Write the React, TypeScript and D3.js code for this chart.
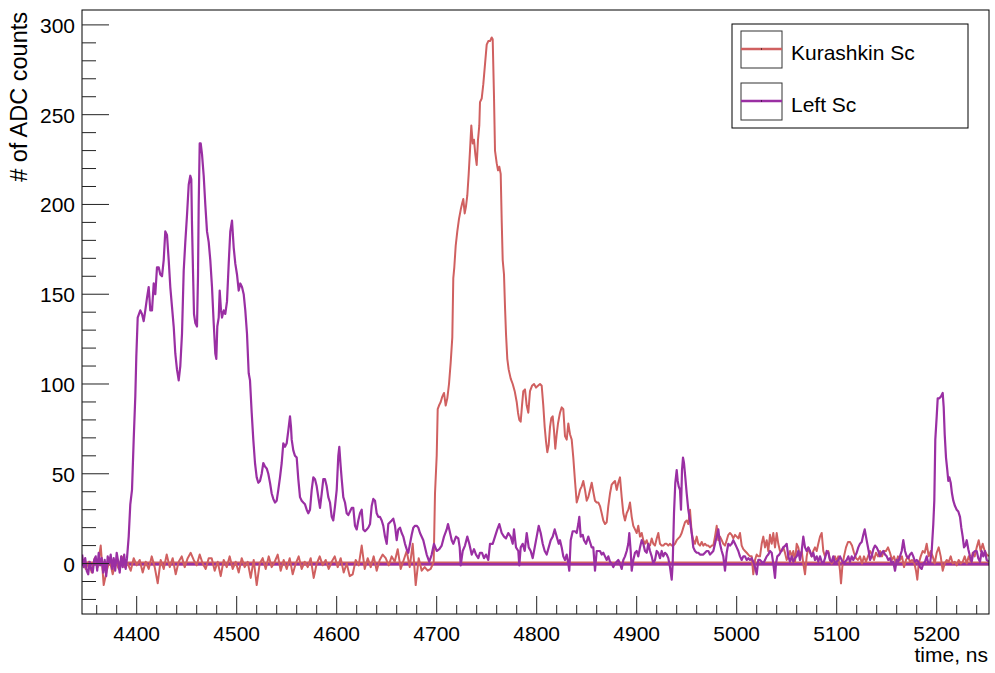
import React from "react";
import * as d3 from "d3";

// ---- data: [time ns, # of ADC counts] ----
const kurashkinSc: [number, number][] = [
  [4346,2],[4349,-3],[4352,1],[4355,-5],[4358,3],[4361,-2],[4364,10],[4367,-12],[4370,-4],[4373,2],[4376,-6],[4379,1],[4382,-3],[4385,4],[4388,-2],[4391,0],[4394,-4],[4397,3],[4400,-1],[4403,2],[4406,-5],[4409,1],[4412,-3],[4415,4],[4418,-2],[4421,-11],[4424,2],[4427,-3],[4430,5],[4433,-2],[4436,3],[4439,-6],[4442,1],[4445,4],[4448,-2],[4451,3],[4454,6],[4457,2],[4460,-1],[4463,5],[4466,0],[4469,-3],[4472,3],[4475,3],[4478,-4],[4481,1],[4484,-7],[4487,2],[4490,-2],[4493,4],[4496,-3],[4499,1],[4502,-5],[4505,3],[4508,-2],[4511,1],[4514,-8],[4517,2],[4520,-12],[4523,0],[4526,3],[4529,-3],[4532,4],[4535,-2],[4538,1],[4541,5],[4544,-4],[4547,2],[4550,-3],[4553,3],[4556,-6],[4559,0],[4562,4],[4565,-3],[4568,1],[4571,-2],[4574,3],[4577,-8],[4580,0],[4583,4],[4586,-1],[4589,2],[4592,-3],[4595,1],[4598,4],[4601,-2],[4604,3],[4607,-5],[4610,0],[4613,-7],[4616,-6],[4619,2],[4622,-1],[4625,10],[4628,-3],[4631,3],[4634,-2],[4637,4],[4640,-4],[4643,2],[4646,5],[4649,3],[4652,-1],[4655,4],[4658,1],[4661,8],[4664,-3],[4667,2],[4670,7],[4673,-2],[4676,11],[4679,-12],[4682,3],[4685,-4],[4688,-2],[4691,-4],[4694,-3],[4697,1],
  [4698.3,39],[4700,60],[4701,86],[4702.3,88],[4704,90],[4705.6,93],[4707.3,95],[4709,88],[4710.6,92],[4712.3,100],[4714,112],[4715.6,126],[4716.6,159],[4717.6,165],[4719,177],[4720.6,185],[4722.3,192],[4724,197],[4725.6,201],[4726.6,203],[4728,195],[4729.3,199],[4730.6,205],[4732,217],[4733.3,230],[4734.6,244],[4736,234],[4737.3,236],[4738.6,228],[4740,222],[4741.3,236],[4742.6,244],[4743.3,257],[4745,259],[4746.6,267],[4748.3,278],[4750,289],[4751.6,291],[4753.3,291],[4755,293],[4756,292],[4757.3,260],[4758.3,230],[4760,223],[4761.3,219],[4762.6,221],[4764,217],[4765,191],[4766,169],[4767.3,161],[4768.3,143],[4769.3,128],[4770.6,114],[4772,108],[4774,103],[4776,100],[4778,96],[4780,90],[4781.3,84],[4782.6,80],[4784,79],[4785.3,88],[4786.6,96],[4788.3,97],[4790,88],[4791.6,84],[4793.3,96],[4795.3,99],[4797.3,100],[4799.3,98],[4801.3,99],[4803.3,100],[4805,99],[4806.6,88],[4808,76],[4809.3,68],[4810.6,62],[4812,66],[4813.3,76],[4814.6,81],[4816,82],[4817.3,74],[4818.6,64],[4820,72],[4821.3,78],[4822.6,82],
  [4823.3,84],[4825,87],[4826.6,86],[4828.3,71],[4830,69],[4831.6,78],[4833.3,72],[4835,69],[4836.6,59],[4838.3,46],[4840,34],[4841.6,37],[4843.3,41],[4845,43],[4846.6,46],[4848.3,41],[4850,35],[4851.6,37],[4853.3,41],[4855,45],[4856.6,40],[4858.3,35],[4860,34],[4861.6,34],[4863.3,32],[4865,28],[4866.6,24],[4868.3,22],[4870,23],[4871.6,32],[4873.3,39],[4875,44],[4876.6,45],[4878.3,46],[4880,41],[4881.6,45],[4883.3,48],[4885,37],[4886.6,28],[4888.3,24],[4890,28],[4891.6,30],[4893.3,34],[4895,26],[4896.6,21],[4898.3,19],[4900,17],[4901.6,21],[4903.3,15],[4905,17],[4906.6,13],[4908.3,11],[4910,13],[4911.6,10],[4913.3,10],[4915,14],[4916.6,11],[4918.3,10],[4920,14],[4921.6,17],[4923.3,11],[4925,10],[4926.6,10],[4928.3,11],[4930,11],[4931.6,10],[4933.3,11],[4935,10],[4936.6,10],[4938.3,11],[4940,13],[4941.6,14],[4943.3,15],[4945,17],[4946.6,20],[4948.3,23],[4950,24],[4951.6,22],[4953.3,30],[4955,17],[4956.6,13],[4958.3,11],[4960,15],[4961.6,11],[4963.3,10],[4965,12],[4966.6,10],[4968.3,11],[4970,10],[4971.6,10],[4973.3,9],[4975,10],[4976.6,10],[4978.3,15],[4980,21],[4981.6,13],[4983.3,15],[4985,13],[4986.6,11],[4988.3,10],[4990,13],[4991.6,16],[4993.3,17],[4995,16],[4996.6,14],[4998.3,16],[5000,15],[5001.6,14],[5003.3,17],[5005,10],[5006.6,8],[5008.3,7],[5010,6],[5011.6,5],[5013.3,4],[5015,4],[5016.6,-6],[5018.3,2],[5020,5],[5021.6,4],
  [5023.3,4],[5025,11],[5026.6,15],[5028.3,9],[5030,13],[5031.6,7],[5033.3,16],[5035,11],[5036.6,17],[5038.3,9],[5040,17],[5041.6,11],[5043.3,7],[5045,7],[5046.6,9],[5048.3,6],[5050,2],[5051.6,4],[5053.3,7],[5055,4],[5056.6,7],[5058.3,1],[5060,11],[5061.6,9],[5063.3,4],[5065,7],[5066.6,0],[5068.3,-6],[5070,4],[5071.6,9],[5073.3,6],[5075,4],[5076.6,7],[5078.3,9],[5080,7],[5081.6,11],[5083.3,15],[5085,17],[5086.6,7],[5088.3,4],[5090,6],[5091.6,7],[5093.3,2],[5095,0],[5096.6,2],[5098.3,4],[5100,1],[5101.6,4],[5103.3,-4],[5104.3,-11],[5105.6,-2],[5107.3,4],[5109.3,9],[5111.3,12],[5113.3,12],[5115.3,10],[5117.3,6],[5119.3,3],[5121.3,2],[5123.3,4],[5125.3,0],[5127.3,4],[5129.3,1],[5131.3,4],[5133.3,7],[5135.3,5],[5137.3,2],[5139.3,6],[5141.3,4],[5143.3,7],[5145.3,4],[5147.3,7],[5149.3,7],[5151.3,9],[5153.3,6],[5155.3,2],[5157.3,4],[5159.3,0],[5161.3,4],[5163.3,2],[5165.3,4],[5167.3,-2],[5169.3,2],[5171.3,4],[5173.3,1],[5175.3,2],[5177.3,1],[5179.3,-4],[5180.6,-9],[5182,0],[5184,4],[5186,7],[5188,6],[5190,11],[5192,4],[5194,7],[5196,4],[5198,0],[5200,6],[5202,9],[5204,4],[5206,-4],[5208,0],[5210,2],[5212,1],[5214,4],[5216,0],[5218,1],[5220,-1],[5222,2],[5224,0],[5226,1],[5228,4],[5230,0],[5232,4],[5234,1],[5236,6],[5238,4],[5240,9],[5242,13],[5244,7],[5246,11],[5248,7],[5250,5],[5252,4]
];

const leftSc: [number, number][] = [
  [4345.5,5],[4347,-2],[4348.5,3],[4350,-4],[4351.5,-6],[4353,1],[4354.5,-3],[4356,-5],[4357.5,2],[4359,4],[4360.5,-4],[4362,6],[4363.5,-1],[4365,3],[4366.5,-5],[4368,2],[4369.5,-7],[4371,4],[4372.5,0],[4374,5],[4375.5,-3],[4377,3],[4378.5,-4],[4380,6],[4381.5,1],[4383,-5],[4384.5,4],[4386,-2],[4387.5,5],[4389,-3],
  [4390.3,3],[4392,15],[4393.6,33],[4395.3,41],[4397,69],[4398.6,93],[4399.6,115],[4401,137],[4403.6,141],[4405.3,139],[4407,135],[4408.6,141],[4410.3,148],[4412,154],[4413.6,141],[4415.3,141],[4417,156],[4418.6,150],[4420.3,165],[4422,165],[4423.6,161],[4425.3,160],[4427,169],[4428.6,185],[4430.3,183],[4432,169],[4433.6,154],[4435.3,143],[4437,132],[4438.6,117],[4440.3,108],[4442,102],[4443.6,110],[4445.3,128],[4447,163],[4448.6,179],[4450.3,194],[4452,211],[4453.6,216],[4454.6,214],[4455.3,189],[4456.3,163],[4457.3,139],[4458.6,134],[4460.3,132],[4461.3,160],[4462,200],[4463,234],[4464,234],[4465.3,228],[4467,216],[4468.6,200],[4470.3,185],[4472,179],[4473.6,169],[4475.3,154],[4477,134],[4478.6,117],[4479.6,114],[4480.6,132],[4482,137],[4483,152],[4484.3,141],[4485.3,137],[4487,141],[4488.6,139],[4490.3,146],[4492,167],[4493.6,185],[4495.3,191],[4497,176],[4498.6,167],[4500.3,161],[4502,152],[4503.6,156],[4505.3,154],[4507,150],[4508.6,141],[4510.3,128],[4512,106],
  [4513.3,102],[4515,84],[4516.6,69],[4518.3,56],[4520,48],[4521.6,45],[4523.3,46],[4525,50],[4526.6,56],[4528.3,54],[4530,53],[4531.6,50],[4533.3,45],[4535,39],[4536.6,36],[4538.3,34],[4540,35],[4541.6,41],[4543.3,48],[4545,56],[4546.6,67],[4548.3,65],[4550,67],[4551.6,74],[4553.3,82],[4554.3,76],[4555,69],[4556.6,63],[4558.3,60],[4560,59],[4561.6,47],[4563.3,37],[4565,35],[4566.6,34],[4568.3,33],[4570,30],[4571.6,28],[4573.3,30],[4575,41],[4576.6,48],[4578.3,47],[4580,43],[4581.6,37],[4583.3,31],[4585,39],[4586.6,47],[4588.3,47],[4590,43],[4591.6,37],[4593.3,34],[4595,26],[4596.6,24],[4598.3,32],[4600,41],[4601.6,60],[4602.6,65],[4604,54],[4605,47],[4606.6,37],[4608.3,34],[4610,28],[4611.6,27],[4613.3,29],[4615,31],[4616.6,31],[4618.3,21],[4620,19],[4621.6,24],[4623.3,28],[4625,30],[4626.6,19],[4628.3,18],[4630,19],[4631.6,20],[4633.3,22],[4635,32],[4636.6,36],[4638.3,35],[4640,28],[4641.6,26],[4643.3,26],[4645,24],[4646.6,21],[4648.3,15],[4650,11],[4651.6,22],[4653.3,23],[4655,24],[4656.6,25],[4658.3,21],[4660,13],[4661.6,19],[4663.3,20],[4665,17],[4666.6,15],[4668.3,11],[4670,8],[4671.6,6],[4673.3,11],[4675,16],[4676.6,20],[4678.3,21],[4680,21],[4681.6,20],
  [4683.3,17],[4686.6,13],[4690,5],[4692.6,1],[4695,5],[4697.3,11],[4700,7],[4702.6,8],[4705,10],[4707.3,15],[4710,19],[4711.3,22],[4712.6,19],[4715,13],[4716.6,11],[4719.3,15],[4721.6,14],[4723,9],[4724,-1],[4726,7],[4728.3,10],[4730.6,15],[4732.6,11],[4735,5],[4737.3,8],[4739.3,5],[4741.6,3],[4743.3,6],[4745.3,6],[4747.3,3],[4749.3,5],[4751.6,2],[4753.3,11],[4756,11],[4758.3,15],[4760.6,19],[4762.6,22],[4765,17],[4767.3,15],[4769.3,14],[4771.6,17],[4774,15],[4776,11],[4777.3,19],[4779.3,9],[4781.6,7],[4782.6,-1],[4784,9],[4786,11],[4788,7],[4790,17],[4792,9],[4794,7],[4796,3],[4798,9],[4800,15],[4802,21],[4804,17],[4806,11],[4808,7],[4810,5],[4812,9],[4814,13],[4816,15],[4818,19],[4820,15],[4822,11],
  [4823.3,13],[4825,9],[4826.6,4],[4828.3,2],[4830,5],[4831.6,0],[4832.6,-4],[4834,13],[4836,18],[4838.3,18],[4840,17],[4841.6,22],[4842.6,26],[4844,15],[4846,16],[4847.3,13],[4849.3,11],[4851.6,15],[4853.3,12],[4855,9],[4856.6,9],[4858.3,-4],[4860,7],[4861.6,7],[4863.3,7],[4865,5],[4866.6,6],[4868.3,4],[4870,2],[4871.6,4],[4873.3,1],[4875,0],[4876.6,-2],[4878.3,0],[4880,1],[4881.6,2],[4883.3,0],[4885,-3],[4886.6,2],[4888.3,4],[4890,7],[4891.6,11],[4892.6,17],[4894,7],[4895,-4],[4896.6,2],[4898.3,6],[4900,7],[4901.6,4],[4903.3,9],[4905,13],[4906.6,11],[4908.3,7],[4910,6],[4911.6,11],[4913.3,7],[4915,4],[4916.6,0],[4918.3,2],[4920,7],[4921.6,6],[4923.3,3],[4925,7],[4926.6,4],[4928.3,6],[4930,5],[4931.6,3],[4933.3,-2],[4935,-9],[4936,0],[4937.3,28],[4938.6,45],[4940,52],[4941,46],[4942,43],[4943.3,41],[4944.3,30],[4945.3,52],[4946.3,59],[4947.3,56],[4948.6,48],[4950,39],[4951.6,30],[4953.3,24],[4955,17],[4956.6,9],[4958.3,7],[4960,6],[4961.6,6],[4963.3,5],[4965,5],[4966.6,5],[4968.3,6],[4970,7],[4971.6,7],[4973.3,5],[4975,6],[4976.6,7],[4978.3,11],[4980,15],[4981.6,19],[4983.3,11],[4985,7],[4986.6,4],[4988.3,-4],[4990,6],[4991.6,11],[4993.3,10],[4995,11],[4996.6,13],[4998.3,11],[5000,9],[5001.6,7],[5003.3,4],[5005,2],[5006.6,4],[5008.3,4],[5010,2],[5011.6,3],[5013.3,2],[5015,3],[5016.6,1],[5018.3,-2],[5020,-6],[5021.6,2],
  [5023.3,2],[5025,1],[5026.6,0],[5028.3,2],[5030,4],[5031.6,5],[5033.3,7],[5035,6],[5036.6,0],[5038.3,-8],[5039.3,0],[5040.6,4],[5042.6,5],[5044.6,7],[5046.6,9],[5048.6,10],[5050,11],[5051.6,4],[5053.3,1],[5055,4],[5056.6,1],[5058.3,3],[5060,4],[5061.6,7],[5063.3,2],[5065,7],[5066.6,15],[5068.3,9],[5070,7],[5071.6,9],[5073.3,7],[5075,4],[5076.6,6],[5078.3,2],[5080,4],[5081.6,1],[5083.3,4],[5085,1],[5086.6,0],[5088.3,3],[5090,7],[5091.6,6],[5093.3,2],[5095,1],[5096.6,4],[5098.3,0],[5100,1],[5101.6,2],[5103.3,4],[5105,2],[5106.6,0],[5108.3,1],[5110,2],[5111.6,4],[5113.3,1],[5115,4],[5116.6,2],[5118.3,4],[5120,6],[5121.6,9],[5123.3,11],[5125,12],[5126.6,16],[5128,19],[5129.3,15],[5130.6,11],[5132,7],[5133.3,2],[5135,4],[5136.6,8],[5138.3,10],[5140,9],[5141.6,7],[5143.3,4],[5145,6],[5146.6,7],[5148.3,5],[5150,4],[5151.6,2],[5153.3,3],[5155,0],[5156.6,1],[5158.3,-4],[5160,2],[5161.6,1],[5163.3,4],[5165,7],[5166.6,13],[5168.3,7],[5170,4],[5171.6,3],[5173.3,5],[5175,6],[5176.6,4],[5178.3,1],[5180,2],[5181.6,1],[5183.3,-2],[5185,-3],[5186.6,0],[5188.3,1],[5190,4],[5191.6,0],[5193.3,0],[5195,7],[5196.6,22],[5197.6,35],[5198.6,69],[5200,82],[5201,92],[5202.6,92],[5204.3,93],[5206,95],[5207,87],[5208,72],[5209.3,59],[5210.6,52],[5211.6,46],[5212.6,48],[5214,45],[5215.3,39],[5216.6,35],[5218.3,32],[5220,30],[5221.6,29],[5223.3,26],[5224.6,20],[5226,15],[5227.3,9],[5228.6,10],[5230,13],[5231.6,8],[5233.3,4],[5235,1],[5236.6,6],[5238.3,7],[5240,7],[5241.6,3],[5243.3,1],[5245,7],[5246.6,4],[5248.3,7],[5250,2],[5252,1]
];

const xDomain: [number, number] = [4345.3, 5252.3];
const yDomain: [number, number] = [-28.1, 308.3];
const xMajorTicks = [4400, 4500, 4600, 4700, 4800, 4900, 5000, 5100, 5200];
const yMajorTicks = [0, 50, 100, 150, 200, 250, 300];
const xMinorStep = 20;
const yMinorStep = 10;
const seriesNames = ["Kurashkin Sc", "Left Sc"];
const seriesColors = ["#d06060", "#9a2fa3"];
const xTitle = "time, ns";
const yTitle = "# of ADC counts";

const W = 995, H = 673;
const M = { left: 82, right: 989, top: 10, bottom: 614 };
const FONT = "'Liberation Sans', Arial, Helvetica, sans-serif";

export default function App() {
  const x = d3.scaleLinear().domain(xDomain).range([M.left, M.right]);
  const y = d3.scaleLinear().domain(yDomain).range([M.bottom, M.top]);
  const line = d3.line<[number, number]>().x(d => x(d[0])).y(d => y(d[1]));

  const xMinor = d3.range(Math.ceil(xDomain[0] / xMinorStep) * xMinorStep, xDomain[1], xMinorStep);
  const yMinor = d3.range(Math.ceil(yDomain[0] / yMinorStep) * yMinorStep, yDomain[1], yMinorStep);
  const yTickMajorLen = 27, yTickMinorLen = 14;
  const xTickMajorLen = 18, xTickMinorLen = 9;

  const legend = { x0: 732, y0: 24, x1: 968, y1: 128 };
  const rowY = [49, 101];

  return (
    <div style={{ position: "absolute", left: 0, top: 0, width: W, height: H, background: "#fff" }}>
      <svg width={W} height={H} style={{ display: "block" }} fontFamily={FONT}>
        <rect x={0} y={0} width={W} height={H} fill="#fff" />
        <defs>
          <clipPath id="frameClip">
            <rect x={M.left} y={M.top} width={M.right - M.left} height={M.bottom - M.top} />
          </clipPath>
        </defs>
        <g clipPath="url(#frameClip)">
          <line x1={M.left} x2={M.right} y1={y(0)} y2={y(0)} stroke={seriesColors[0]} strokeWidth={4} />
          <line x1={M.left} x2={M.right} y1={y(0)} y2={y(0)} stroke={seriesColors[1]} strokeWidth={2.5} transform="translate(0,0.8)" />
          <path d={line(kurashkinSc) || ""} fill="none" stroke={seriesColors[0]} strokeWidth={2} strokeLinejoin="round" />
          <path d={line(leftSc) || ""} fill="none" stroke={seriesColors[1]} strokeWidth={2.2} strokeLinejoin="round" />
        </g>
        {/* frame */}
        <rect x={M.left} y={M.top} width={M.right - M.left} height={M.bottom - M.top} fill="none" stroke="#000" strokeWidth={1} />
        {/* y ticks */}
        {yMinor.map(v => {
          const major = Math.abs(v % 50) < 1e-6;
          return <line key={"ym" + v} x1={M.left} x2={M.left + (major ? yTickMajorLen : yTickMinorLen)} y1={y(v)} y2={y(v)} stroke="#222" strokeWidth={1} />;
        })}
        {yMajorTicks.map(v => (
          <text key={"yl" + v} x={75} y={y(v) + 8} textAnchor="end" fontSize={21} fill="#000">{v}</text>
        ))}
        {/* x ticks */}
        {xMinor.map(v => {
          const major = Math.abs(v % 100) < 1e-6;
          return <line key={"xm" + v} x1={x(v)} x2={x(v)} y1={M.bottom} y2={M.bottom - (major ? xTickMajorLen : xTickMinorLen)} stroke="#222" strokeWidth={1} />;
        })}
        {xMajorTicks.map(v => (
          <text key={"xl" + v} x={x(v)} y={640.5} textAnchor="middle" fontSize={21} fill="#000">{v}</text>
        ))}
        {/* axis titles */}
        <text x={988} y={662} textAnchor="end" fontSize={21} fill="#000">{xTitle}</text>
        <text transform={`translate(27,12) rotate(-90)`} textAnchor="end" fontSize={23.5} fill="#000">{yTitle}</text>
        {/* legend */}
        <rect x={legend.x0} y={legend.y0} width={legend.x1 - legend.x0} height={legend.y1 - legend.y0} fill="#fff" stroke="#000" strokeWidth={1} />
        {seriesNames.map((name, i) => (
          <g key={name}>
            <rect x={741} y={rowY[i] - 18} width={41} height={37} fill="#fff" stroke="#333" strokeWidth={1} />
            <line x1={741} x2={782} y1={rowY[i]} y2={rowY[i]} stroke={seriesColors[i]} strokeWidth={2.5} />
            <rect x={761} y={rowY[i] - 0.5} width={1} height={1} fill="#000" />
            <text x={791} y={rowY[i] + 11} fontSize={21} fill="#000">{name}</text>
          </g>
        ))}
      </svg>
    </div>
  );
}
